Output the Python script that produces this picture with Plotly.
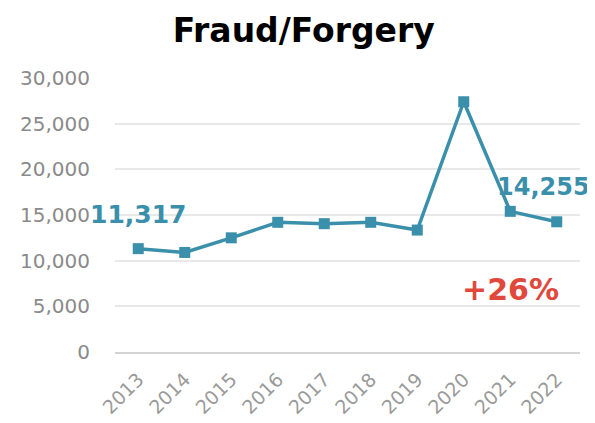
import plotly.graph_objects as go

years = [2013, 2014, 2015, 2016, 2017, 2018, 2019, 2020, 2021, 2022]
values = [11317, 10900, 12500, 14200, 14050, 14200, 13350, 27400, 15400, 14255]
y_ticks = [0, 5000, 10000, 15000, 20000, 25000, 30000]
y_tick_labels = ["0", "5,000", "10,000", "15,000", "20,000", "25,000", "30,000"]
title_text = "Fraud/Forgery"
change_text = "+26%"

teal = "#3a8fab"
red = "#e0483b"
gray = "#8a8a8a"
font_family = "DejaVu Sans, Liberation Sans, Arial, sans-serif"

fig = go.Figure()
fig.add_trace(go.Scatter(
    x=years, y=values, mode="lines+markers",
    line=dict(color=teal, width=3.5),
    marker=dict(symbol="square", size=11, color=teal),
    cliponaxis=False, showlegend=False,
))

fig.add_annotation(x=years[0], y=values[0], text=f"{values[0]:,}", showarrow=False,
                   yshift=34, xanchor="center", yanchor="middle",
                   font=dict(family=font_family, size=25, color=teal, weight="bold"))
fig.add_annotation(x=years[-1], y=values[-1], text=f"{values[-1]:,}", showarrow=False,
                   yshift=35, xshift=-13, xanchor="center", yanchor="middle",
                   font=dict(family=font_family, size=24, color=teal, weight="bold"))
fig.add_annotation(x=years[-2], y=6800, text=change_text, showarrow=False,
                   xanchor="center", yanchor="middle",
                   font=dict(family=font_family, size=30, color=red, weight="bold"))

fig.update_layout(
    width=595, height=423,
    margin=dict(l=107, r=23, t=70, b=79),
    paper_bgcolor="white", plot_bgcolor="white",
    title=dict(text=f"<b>{title_text}</b>", x=0.497, xanchor="center", y=0.948, yanchor="middle",
               font=dict(family=font_family, size=33, color="black")),
    font=dict(family=font_family, color=gray),
)
fig.update_yaxes(range=[0, 30000], tickvals=y_ticks, ticktext=y_tick_labels,
                 showgrid=True, gridcolor="#e8e8e8", gridwidth=1.5,
                 zeroline=False, showline=False, ticks="", ticklen=0,
                 automargin=False, ticklabelstandoff=24,
                 tickfont=dict(family=font_family, size=20, color=gray))
fig.update_xaxes(range=[2012.5, 2022.5], tickvals=years, ticktext=[str(y) for y in years],
                 showgrid=False, showline=True, linecolor="#d4d4d4", linewidth=2,
                 zeroline=False, ticks="", tickangle=-45, automargin=False,
                 ticklabelstandoff=7,
                 tickfont=dict(family=font_family, size=19, color="#9a9a9a"))

fig.write_html("out.html")
